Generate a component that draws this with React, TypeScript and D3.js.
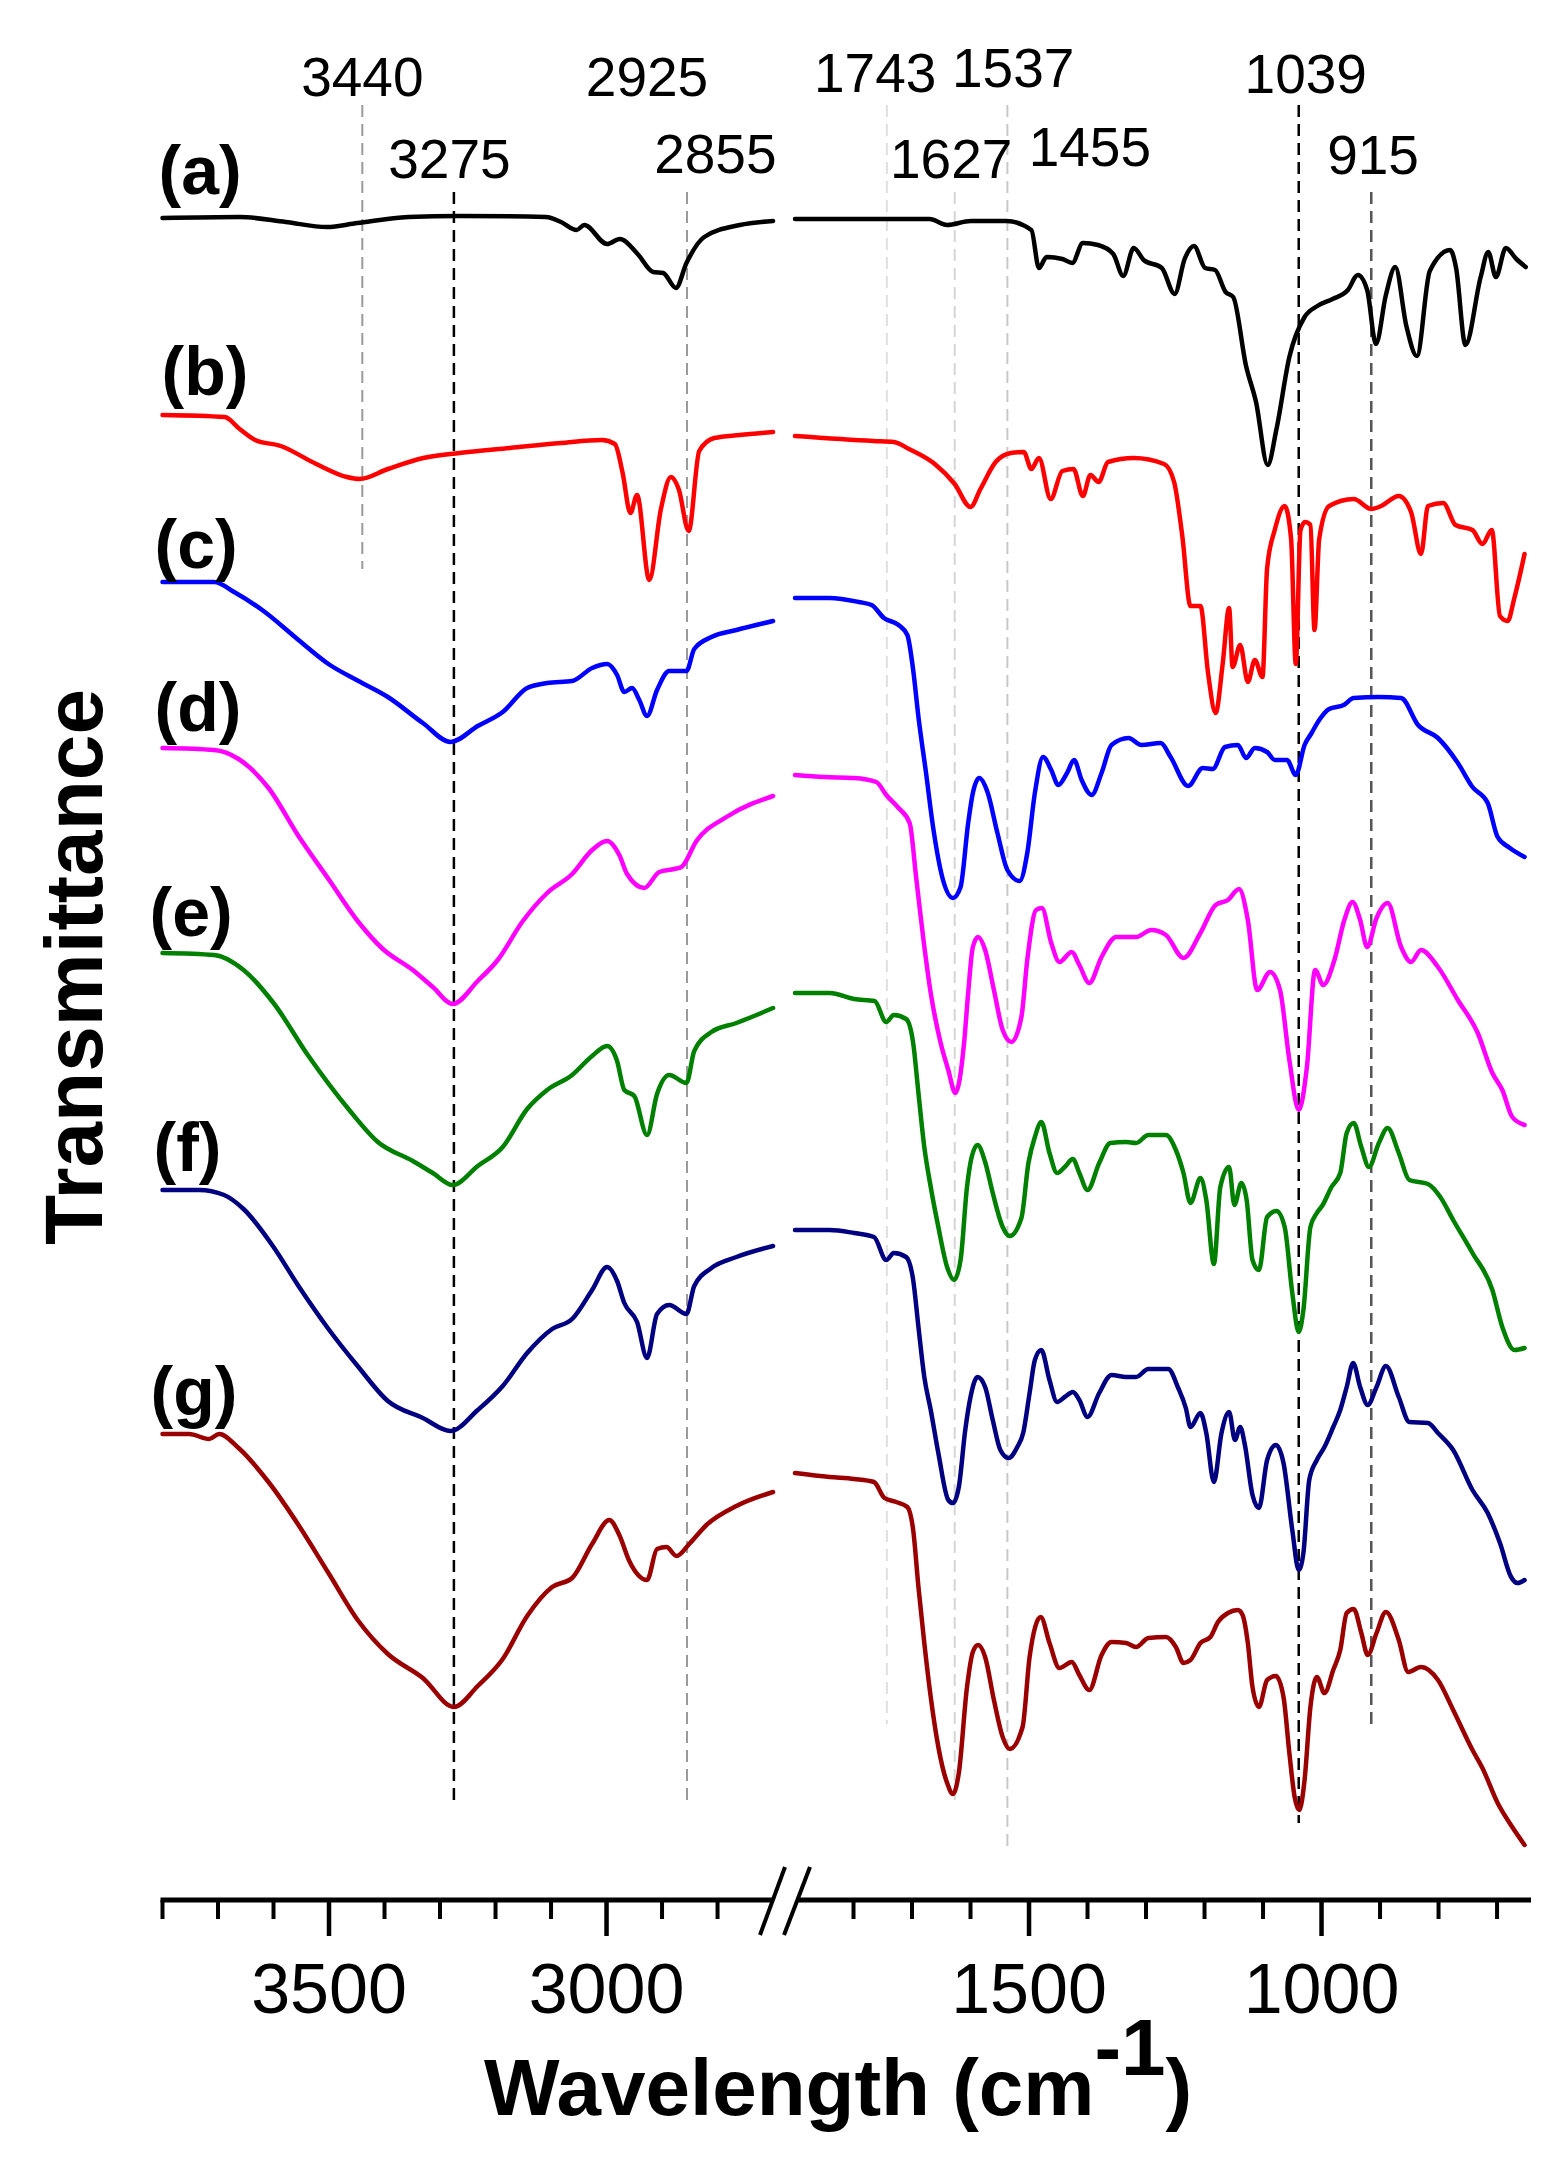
import React from 'react';
import * as d3 from 'd3';

// FTIR spectra, broken wavenumber axis (cm-1) vs. stacked transmittance (a.u.)
const seriesNames = ['(a)', '(b)', '(c)', '(d)', '(e)', '(f)', '(g)'];

const aLeft = [[3800,168.4],[3661,168.5],[3578,168.0],[3504,167.5],[3449,167.9],[3357,168.5],[3265,168.6],[3109,168.5],[3082,168.0],[3054,167.2],[3040,167.7],[2999,165.8],[2976,166.3],[2944,164.8],[2916,163.0],[2898,162.9],[2875,161.4],[2856,163.9],[2824,166.5],[2760,167.7],[2700,168.1]];
const aRight = [[1900,168.3],[1670,168.3],[1640,167.7],[1600,168.1],[1539,168.1],[1496,167.2],[1483,163.4],[1470,164.5],[1443,164.3],[1426,163.9],[1408,165.9],[1382,165.7],[1356,164.8],[1339,162.6],[1321,165.4],[1304,164.2],[1273,163.4],[1251,160.8],[1234,164.3],[1218,165.6],[1199,163.4],[1182,163.2],[1164,161.0],[1151,160.5],[1129,153.6],[1112,150.0],[1092,143.7],[1077,147.3],[1055,154.5],[1029,158.5],[1007,159.6],[981,160.3],[955,161.2],[938,162.7],[922,161.2],[907,155.8],[890,160.7],[874,163.5],[855,157.6],[837,154.6],[815,163.1],[780,165.2],[770,163.4],[754,155.7],[728,162.5],[715,165.0],[702,162.5],[685,165.4],[667,164.3],[651,163.5]];

const bLeft = [[3800,148.7],[3688,148.5],[3661,147.3],[3633,146.2],[3587,145.6],[3523,143.8],[3468,142.5],[3445,142.3],[3394,143.3],[3330,144.4],[3265,144.9],[3174,145.4],[3082,145.9],[3008,146.2],[2985,145.8],[2971,142.9],[2957,138.9],[2945,140.7],[2923,132.2],[2902,139.3],[2884,142.5],[2870,141.3],[2852,137.1],[2833,145.1],[2806,146.4],[2760,146.7],[2700,147.0]];
const bRight = [[1900,146.6],[1766,146.1],[1731,146.0],[1705,145.3],[1661,143.8],[1627,141.8],[1600,139.5],[1583,141.3],[1557,144.0],[1531,144.9],[1509,145.0],[1496,143.3],[1483,144.4],[1463,140.3],[1443,143.1],[1424,143.3],[1408,140.6],[1395,142.7],[1381,142.0],[1365,144.0],[1321,144.4],[1269,143.8],[1252,142.0],[1238,136.6],[1224,129.6],[1207,129.6],[1194,122.9],[1181,118.9],[1169,123.8],[1158,129.4],[1152,123.5],[1139,125.7],[1126,122.0],[1114,124.2],[1101,122.5],[1093,133.4],[1080,137.2],[1063,139.6],[1052,136.3],[1044,123.8],[1036,137.2],[1028,138.0],[1019,137.7],[1012,127.2],[1004,136.3],[987,139.6],[945,140.3],[915,139.3],[898,139.6],[868,140.6],[847,139.0],[830,134.8],[818,139.6],[792,139.9],[771,137.7],[742,137.2],[725,135.8],[709,137.2],[695,128.6],[682,128.1],[670,130.5],[653,134.8]];

const cLeft = [[3800,132.0],[3707,132.0],[3671,131.0],[3618,129.1],[3555,126.2],[3501,123.8],[3447,122.1],[3394,120.5],[3331,117.9],[3281,116.0],[3232,117.6],[3187,119.0],[3143,121.4],[3107,121.9],[3062,122.1],[3026,123.4],[2999,123.8],[2981,122.7],[2968,121.0],[2954,121.4],[2941,120.2],[2927,118.6],[2909,121.2],[2887,123.1],[2856,123.1],[2842,125.3],[2811,126.5],[2766,127.2],[2700,128.1]];
const cRight = [[1900,130.4],[1841,130.4],[1791,130.0],[1769,129.7],[1748,128.4],[1723,127.7],[1708,126.7],[1698,123.2],[1689,118.5],[1676,112.9],[1664,107.5],[1647,102.2],[1630,100.4],[1617,101.5],[1604,107.9],[1596,110.9],[1585,112.4],[1571,111.0],[1554,106.9],[1537,103.2],[1516,102.1],[1503,104.9],[1490,110.9],[1476,114.5],[1462,113.2],[1450,111.7],[1435,112.9],[1423,114.2],[1410,112.2],[1393,110.7],[1376,112.9],[1359,115.7],[1330,116.4],[1308,115.7],[1275,115.9],[1258,114.5],[1228,111.6],[1203,113.4],[1186,113.3],[1165,115.5],[1143,115.7],[1129,114.4],[1114,115.4],[1093,115.0],[1080,114.2],[1059,114.2],[1044,112.7],[1029,115.7],[1017,116.9],[1004,118.2],[987,119.3],[962,119.7],[945,120.4],[902,120.5],[864,120.4],[835,117.7],[801,116.4],[767,113.9],[742,111.5],[716,109.9],[699,106.5],[678,105.4],[653,104.5]];

const dLeft = [[3800,115.4],[3707,115.2],[3663,114.3],[3609,111.4],[3555,106.6],[3501,102.3],[3447,98.0],[3403,95.3],[3349,93.2],[3313,91.5],[3277,89.8],[3232,92.1],[3196,94.2],[3152,98.0],[3107,100.9],[3062,102.8],[3026,105.2],[2999,106.1],[2977,104.7],[2963,102.8],[2932,101.4],[2905,103.0],[2878,103.3],[2865,103.5],[2838,106.1],[2784,108.5],[2700,110.6]];
const dRight = [[1900,112.7],[1850,112.5],[1799,112.4],[1761,112.0],[1744,110.7],[1723,109.4],[1704,107.9],[1693,102.5],[1681,96.5],[1668,90.9],[1651,85.9],[1638,83.2],[1626,80.9],[1611,85.9],[1604,90.9],[1596,95.5],[1587,96.5],[1575,95.2],[1560,91.2],[1545,87.2],[1530,86.0],[1513,88.5],[1503,94.2],[1488,99.2],[1478,99.4],[1462,95.9],[1448,94.0],[1427,95.0],[1414,93.7],[1397,91.9],[1376,94.5],[1351,96.5],[1317,96.5],[1291,97.2],[1266,96.7],[1236,94.4],[1207,96.9],[1181,99.7],[1160,100.2],[1141,101.3],[1126,98.2],[1110,91.2],[1088,93.0],[1071,91.2],[1055,84.2],[1039,79.2],[1025,83.5],[1011,93.2],[997,91.7],[978,94.2],[961,98.2],[947,100.0],[934,98.2],[922,95.5],[906,98.4],[887,99.9],[864,95.5],[847,94.0],[830,95.2],[801,93.5],[767,90.2],[733,86.9],[708,82.9],[691,81.2],[674,78.5],[653,77.7]];

const eLeft = [[3800,94.9],[3707,94.7],[3654,93.2],[3600,89.9],[3537,84.6],[3465,79.3],[3412,76.0],[3349,74.1],[3313,72.9],[3277,71.7],[3232,73.6],[3187,75.5],[3143,79.3],[3107,81.2],[3062,82.7],[3026,84.6],[2999,85.6],[2981,84.1],[2968,81.2],[2950,80.6],[2927,76.7],[2909,80.8],[2887,82.7],[2856,81.9],[2842,85.1],[2811,87.0],[2766,87.9],[2700,89.4]];
const eRight = [[1900,90.9],[1841,90.9],[1799,90.3],[1764,90.1],[1744,88.0],[1731,88.7],[1710,88.3],[1698,85.9],[1689,80.9],[1679,75.5],[1668,71.5],[1655,67.5],[1640,63.5],[1628,62.2],[1617,64.2],[1606,71.5],[1598,74.5],[1588,75.7],[1575,74.0],[1562,70.9],[1545,67.5],[1533,66.6],[1513,68.4],[1501,73.9],[1490,76.5],[1479,78.0],[1465,74.9],[1452,72.9],[1439,73.5],[1425,74.3],[1414,72.9],[1400,71.2],[1380,73.9],[1361,75.9],[1334,76.0],[1317,75.9],[1296,76.7],[1266,76.7],[1249,75.2],[1236,72.9],[1224,69.9],[1207,72.4],[1197,70.2],[1184,63.8],[1173,71.5],[1158,73.5],[1149,69.7],[1137,71.9],[1128,70.2],[1118,64.2],[1107,63.2],[1093,68.5],[1077,69.1],[1063,67.5],[1050,60.9],[1039,57.0],[1031,59.2],[1019,67.5],[1008,68.9],[998,69.7],[983,71.5],[968,72.9],[957,76.9],[945,77.9],[932,75.5],[919,73.5],[902,75.9],[887,77.4],[868,74.9],[850,72.2],[818,71.8],[797,70.5],[775,68.2],[742,64.9],[708,61.2],[691,57.5],[670,55.2],[653,55.4]];

const fLeft = [[3800,71.2],[3734,71.2],[3689,70.7],[3654,69.3],[3600,65.5],[3555,61.6],[3501,57.3],[3447,53.5],[3394,50.1],[3331,48.4],[3281,47.1],[3232,49.2],[3187,51.6],[3143,54.9],[3098,57.3],[3062,58.3],[3026,61.2],[2999,63.5],[2981,62.1],[2968,59.9],[2945,58.0],[2927,54.4],[2909,58.8],[2887,59.7],[2856,58.8],[2842,61.6],[2811,63.4],[2766,64.5],[2700,65.6]];
const fRight = [[1900,67.2],[1841,67.2],[1799,66.9],[1765,66.5],[1744,64.2],[1731,64.9],[1710,64.5],[1698,62.2],[1689,57.5],[1679,52.5],[1668,49.2],[1655,44.9],[1638,40.2],[1630,39.9],[1620,41.5],[1609,47.2],[1600,50.5],[1588,52.5],[1575,51.5],[1562,48.2],[1549,45.2],[1535,44.4],[1520,45.5],[1510,46.9],[1499,50.9],[1490,54.2],[1479,55.2],[1465,52.2],[1452,50.0],[1439,50.5],[1425,51.0],[1414,50.2],[1400,48.5],[1380,50.9],[1359,52.7],[1334,52.5],[1317,52.5],[1296,53.3],[1262,53.3],[1245,51.4],[1232,49.4],[1224,47.5],[1207,48.9],[1197,46.9],[1184,42.0],[1171,46.9],[1158,49.0],[1148,46.2],[1139,47.5],[1131,45.7],[1118,40.7],[1107,39.4],[1093,44.2],[1078,45.7],[1065,43.9],[1050,37.2],[1039,33.2],[1031,34.9],[1021,42.2],[1008,44.2],[995,45.5],[980,47.5],[968,49.2],[957,51.5],[946,53.9],[934,51.5],[921,49.7],[906,51.5],[890,53.6],[868,50.5],[850,48.0],[818,47.9],[801,46.9],[775,45.2],[742,41.2],[716,38.9],[695,35.9],[676,32.5],[665,31.9],[653,32.2]];

const gLeft = [[3800,46.8],[3752,46.8],[3716,46.3],[3698,46.8],[3663,45.4],[3609,42.0],[3555,37.7],[3501,32.9],[3447,28.1],[3394,24.8],[3331,22.4],[3275,19.5],[3232,21.6],[3187,24.3],[3143,28.6],[3098,31.5],[3062,32.4],[3026,35.8],[2995,38.2],[2977,36.7],[2959,34.1],[2927,32.2],[2909,35.3],[2892,35.5],[2874,34.6],[2851,35.8],[2820,37.7],[2766,39.6],[2700,41.0]];
const gRight = [[1900,42.9],[1841,42.5],[1799,42.3],[1765,42.0],[1747,40.4],[1727,40.0],[1708,39.5],[1698,37.2],[1689,31.5],[1679,25.9],[1668,20.5],[1655,15.5],[1640,11.9],[1630,10.8],[1620,12.9],[1606,21.5],[1596,25.0],[1587,25.7],[1575,24.5],[1560,20.2],[1545,16.5],[1533,15.3],[1511,17.5],[1499,24.5],[1480,28.5],[1465,25.9],[1448,23.4],[1427,24.0],[1414,22.7],[1397,21.2],[1376,24.7],[1359,26.0],[1334,25.9],[1317,25.5],[1296,26.4],[1266,26.5],[1249,25.5],[1236,23.9],[1224,24.2],[1207,25.9],[1190,26.5],[1177,28.0],[1160,28.9],[1143,29.2],[1135,28.7],[1126,25.9],[1118,21.5],[1107,19.5],[1093,22.2],[1078,22.6],[1065,20.5],[1055,14.9],[1046,10.5],[1038,9.2],[1029,12.2],[1019,19.5],[1008,22.5],[995,20.9],[980,23.2],[968,25.2],[957,28.9],[945,29.3],[932,26.9],[921,24.7],[906,26.9],[890,29.0],[868,26.2],[852,23.0],[830,23.5],[801,22.2],[775,19.2],[742,15.2],[725,13.4],[699,9.9],[674,7.5],[653,5.7]];

const leftTicks = d3.range(3800, 2799, -100);
const rightTicks = d3.range(1800, 699, -100);
const tickLabels = [3500, 3000, 1500, 1000];

// dashed marker lines (wavenumber) and peak annotations
const markerWn = [3440, 3275, 2855, 1743, 1627, 1537, 1039, 915];
const peakText = ['3440', '2925', '3275', '2855', '1743', '1537', '1039', '1627', '1455', '915'];

// ---- layout / style (not data) ----
const W = 1556;
const H = 2169;
const COLORS = ['#000000', '#ff0000', '#0000ff', '#ff00ff', '#008000', '#000080', '#9b0000'];
const FONT = "'Liberation Sans', Arial, sans-serif";
const markerStyle: Record<number, { top: number; bottom: number; color: string; width: number }> = {
  3440: { top: 179.7, bottom: 133.3, color: '#9a9a9a', width: 2 },
  3275: { top: 171, bottom: 10, color: '#000', width: 2.5 },
  2855: { top: 171, bottom: 10, color: '#9a9a9a', width: 2 },
  1743: { top: 179.7, bottom: 17.8, color: '#e0e0e0', width: 2 },
  1627: { top: 171, bottom: 10, color: '#d6d6d6', width: 2 },
  1537: { top: 179.7, bottom: 5.5, color: '#c8c8c8', width: 2 },
  1039: { top: 179.7, bottom: 7.9, color: '#000', width: 2.5 },
  915: { top: 171, bottom: 17.5, color: '#555', width: 2.5 },
};
// label anchor (wavenumber of text centre, baseline in a.u.)
const peakTextPos = [
  [3440, 180.6], [2927, 180.6], [3283, 172.4], [2804, 172.9], [1763, 181],
  [1527, 181.5], [1027, 180.9], [1633, 172.4], [1396, 173.6], [912, 172.8],
];
const seriesLabelY = [170.8, 150.7, 133.4, 117.1, 96.6, 73.1, 48.7];
const seriesLabelDx = [-4, -1, -8, -8, -13, -9, -12];

const yScale = d3.scaleLinear().domain([0, 180]).range([1902, 102]);
const xLeft = d3.scaleLinear().domain([3800, 2690]).range([162.5, 778.6]);
const xRight = d3.scaleLinear().domain([1900, 650]).range([795, 1526.3]);
const xOf = (wn: number) => (wn > 2000 ? xLeft(wn) : xRight(wn));

const lineL = d3.line<number[]>().x((d) => xLeft(d[0])).y((d) => yScale(d[1])).curve(d3.curveMonotoneX);
const lineR = d3.line<number[]>().x((d) => xRight(d[0])).y((d) => yScale(d[1])).curve(d3.curveMonotoneX);

const series = [
  [aLeft, aRight], [bLeft, bRight], [cLeft, cRight], [dLeft, dRight],
  [eLeft, eRight], [fLeft, fRight], [gLeft, gRight],
];

export default function App() {
  const axisY = 1900;
  return (
    <svg width={W} height={H} style={{ position: 'absolute', left: 0, top: 0, background: '#fff' }}>
      {/* marker lines */}
      {markerWn.map((wn) => {
        const s = markerStyle[wn];
        return (
          <line key={'m' + wn} x1={xOf(wn)} x2={xOf(wn)} y1={yScale(s.top)} y2={yScale(s.bottom)}
            stroke={s.color} strokeWidth={s.width} strokeDasharray="12 7" />
        );
      })}

      {/* spectra */}
      {series.map(([l, r], i) => (
        <g key={'s' + i} fill="none" stroke={COLORS[i]} strokeWidth={4.5} strokeLinejoin="round" strokeLinecap="round">
          <path d={lineL(l) || ''} />
          <path d={lineR(r) || ''} />
        </g>
      ))}

      {/* series labels */}
      {seriesNames.map((n, i) => (
        <text key={n} x={xLeft(3800) + seriesLabelDx[i]} y={yScale(seriesLabelY[i])}
          fontFamily={FONT} fontWeight="bold" fontSize={68} fill="#000">{n}</text>
      ))}

      {/* peak annotations */}
      {peakText.map((t, i) => (
        <text key={'p' + i} x={xOf(peakTextPos[i][0])} y={yScale(peakTextPos[i][1])}
          textAnchor="middle" fontFamily={FONT} fontSize={55} fill="#000">{t}</text>
      ))}

      {/* x axis with break */}
      <g stroke="#000">
        <line x1={xLeft(3800) - 2} x2={774} y1={axisY} y2={axisY} strokeWidth={5} />
        <line x1={798} x2={1531} y1={axisY} y2={axisY} strokeWidth={5} />
        {leftTicks.map((t) => (
          <line key={'lt' + t} x1={xLeft(t)} x2={xLeft(t)} y1={axisY}
            y2={axisY + (t % 500 === 0 ? 36 : 19)} strokeWidth={t % 500 === 0 ? 4.5 : 4} />
        ))}
        {rightTicks.map((t) => (
          <line key={'rt' + t} x1={xRight(t)} x2={xRight(t)} y1={axisY}
            y2={axisY + (t % 500 === 0 ? 36 : 19)} strokeWidth={t % 500 === 0 ? 4.5 : 4} />
        ))}
        <line x1={785} y1={1867} x2={760} y2={1935} strokeWidth={4} />
        <line x1={810} y1={1867} x2={784} y2={1935} strokeWidth={4} />
      </g>
      {tickLabels.map((t) => (
        <text key={'tl' + t} x={xOf(t)} y={2013} textAnchor="middle" fontFamily={FONT}
          fontSize={70} fill="#000">{t}</text>
      ))}

      {/* axis titles */}
      <text x={484} y={2115} fontFamily={FONT} fontWeight="bold" fontSize={80} fill="#000">
        Wavelength (cm<tspan dy={-40}>-1</tspan><tspan dy={40}>)</tspan>
      </text>
      <text transform="translate(102,967) rotate(-90)" textAnchor="middle" fontFamily={FONT}
        fontWeight="bold" fontSize={82} fill="#000">Transmittance</text>
    </svg>
  );
}
